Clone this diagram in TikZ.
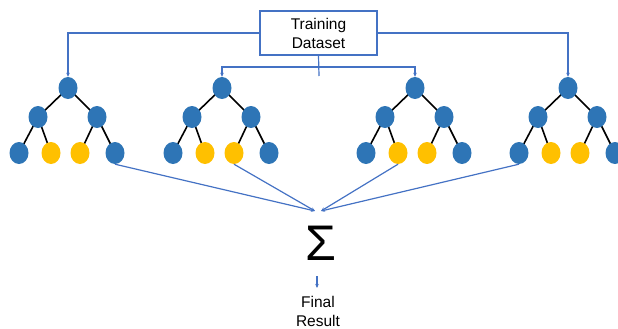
\documentclass[tikz,border=0pt]{standalone}
\usepackage{fontspec}
\setmainfont{Liberation Sans}
\usetikzlibrary{shapes.geometric,arrows.meta,backgrounds}
\definecolor{nblue}{HTML}{2E75B6}
\definecolor{nyel}{HTML}{FFC000}
\definecolor{lblue}{HTML}{4472C4}
\tikzset{
  bn/.style={ellipse,fill=nblue,minimum width=19pt,minimum height=22pt,inner sep=0pt},
  yn/.style={ellipse,fill=nyel,minimum width=19pt,minimum height=22pt,inner sep=0pt},
  edge/.style={black,line width=1.6pt},
  conn/.style={lblue,line width=1.2pt},
  arr/.style={conn,-{Stealth[length=4pt,width=3.5pt]}},
}
\newcommand\mytree[2]{%
  \node[bn] (#1r) at (#2,88) {};
  \node[bn] (#1l) at ([shift={(-30,29)}]#1r.center) {};
  \node[bn] (#1m) at ([shift={(29,29)}]#1r.center) {};
  \node[bn] (#1a) at ([shift={(-49,65)}]#1r.center) {};
  \node[yn] (#1b) at ([shift={(-17,65)}]#1r.center) {};
  \node[yn] (#1c) at ([shift={(12,65)}]#1r.center) {};
  \node[bn] (#1d) at ([shift={(47,65)}]#1r.center) {};
  \begin{scope}[on background layer]
  \draw[edge] (#1r.center) -- (#1l.center);
  \draw[edge] (#1r.center) -- (#1m.center);
  \draw[edge] (#1l.center) -- (#1a.center);
  \draw[edge] (#1l.center) -- (#1b.center);
  \draw[edge] (#1m.center) -- (#1c.center);
  \draw[edge] (#1m.center) -- (#1d.center);
  \end{scope}
}
\begin{document}
\begin{tikzpicture}[x=1pt,y=-1pt]
\useasboundingbox (0,0) rectangle (618,329);
\node[draw=lblue,line width=1.2pt,minimum width=117pt,minimum height=44pt,inner sep=0pt,align=center,font=\fontsize{15.5}{19}\selectfont] (box) at (318.5,33) {Training\\Dataset};
\mytree{p}{68}
\mytree{q}{222}
\mytree{s}{415}
\mytree{t}{568}
\coordinate (split) at (319,76);
\coordinate (hl) at (319,67);
\draw[conn] (box.south) -- (split);
\draw[arr] (box.west) -| (pr.north);
\draw[arr] (box.east) -| (tr.north);
\draw[arr] (hl) -| (qr.north);
\draw[arr] (hl) -| (sr.north);
\coordinate (cL) at (315,211);
\coordinate (cR) at (321,211);
\draw[arr] (pd.south) -- (cL);
\draw[arr] (qc.south) -- (cL);
\draw[arr] (sb.south) -- (cR);
\draw[arr] (ta.south) -- (cR);
\node[font=\fontsize{50}{50}\selectfont,inner sep=0pt] (sig) at (321,243) {Σ};
\coordinate (a1) at (317,276);
\coordinate (a2) at (317,288);
\draw[arr] (a1) -- (a2);
\node[align=center,inner sep=0pt,font=\fontsize{15.5}{19}\selectfont] (res) at (318,311) {Final\\Result};
\end{tikzpicture}
\end{document}
